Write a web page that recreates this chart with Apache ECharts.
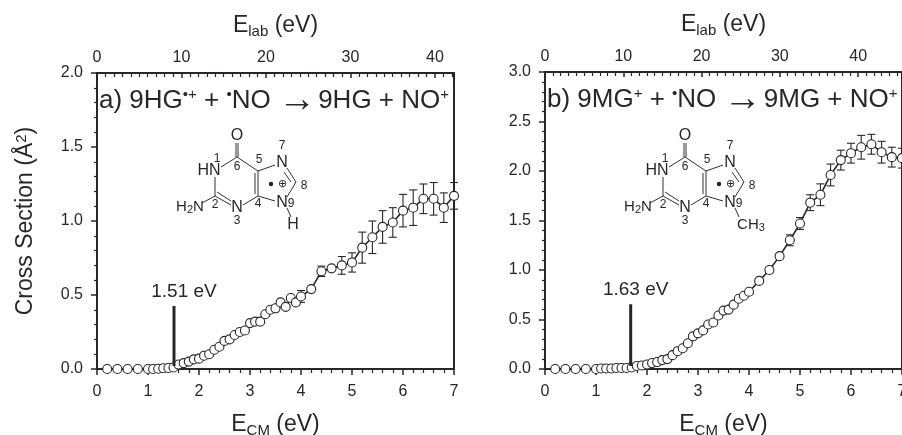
<!DOCTYPE html>
<html><head><meta charset="utf-8">
<style>html,body{margin:0;padding:0;background:#fff;overflow:hidden}#c{width:902px;height:435px}</style>
<script src="https://cdn.jsdelivr.net/npm/echarts@6/dist/echarts.min.js"></script>
</head><body><div id="c"></div>
<script>
const energyA=[0.2,0.4,0.6,0.8,1.0,1.1,1.2,1.3,1.4,1.5,1.6,1.7,1.8,1.9,2.0,2.1,2.2,2.3,2.4,2.5,2.6,2.7,2.8,2.9,3.0,3.1,3.2,3.3,3.4,3.5,3.6,3.7,3.8,3.9,4.0,4.2,4.4,4.6,4.8,5.0,5.2,5.4,5.6,5.8,6.0,6.2,6.4,6.6,6.8,7.0];
const sigmaA=[0,0,0,0,0,0,0.002,0.005,0.007,0.01,0.03,0.04,0.05,0.065,0.07,0.09,0.10,0.13,0.15,0.19,0.20,0.23,0.25,0.26,0.31,0.32,0.32,0.37,0.40,0.41,0.45,0.42,0.48,0.45,0.49,0.54,0.66,0.68,0.70,0.72,0.82,0.89,0.96,0.99,1.07,1.09,1.15,1.15,1.09,1.17];
const errA=[0,0,0,0,0,0,0,0,0,0,0,0,0,0,0,0,0,0,0,0,0,0,0,0,0,0,0,0,0,0,0,0,0,0.02,0.04,0.01,0.035,0.012,0.06,0.065,0.105,0.11,0.11,0.10,0.11,0.12,0.10,0.11,0.10,0.09];
const energyB=energyA;
const sigmaB=[0,0,0,0,0,0.005,0.005,0.005,0.01,0.01,0.01,0.015,0.03,0.035,0.045,0.06,0.07,0.09,0.10,0.14,0.18,0.21,0.26,0.33,0.36,0.39,0.45,0.47,0.54,0.59,0.60,0.65,0.71,0.74,0.78,0.89,1.00,1.14,1.30,1.47,1.68,1.76,1.96,2.11,2.18,2.24,2.27,2.19,2.14,2.13];
const errB=[0,0,0,0,0,0,0,0,0,0,0,0,0,0,0,0,0,0,0,0,0,0,0,0,0,0,0,0,0,0,0,0,0,0,0.01,0.02,0.03,0.02,0.055,0.06,0.08,0.11,0.11,0.10,0.10,0.12,0.10,0.11,0.10,0.10];
const thresholdA=[[1.51,0.02],[1.51,0.425]];
const thresholdB=[[1.68,0.03],[1.68,0.655]];
const ink='#2a2627';
const font='"Liberation Sans",Arial,sans-serif';
const axisName=(main,sub)=>`{m|${main}}{s|${sub}}{m| (eV)}`;
const nameRich={m:{fontSize:23,fontFamily:font,color:ink},s:{fontSize:15,fontFamily:font,color:ink,verticalAlign:'bottom',padding:[12,0,0,0]}};
function xAxes(g,topMax){
 const line={lineStyle:{color:ink,width:2}};
 return [
 {gridIndex:g,type:'value',position:'bottom',min:0,max:7,interval:1,axisLine:{show:true,onZero:false,...line},
  axisTick:{show:true,length:6,inside:false,lineStyle:{color:ink,width:1.5}},
  minorTick:{show:true,splitNumber:5,length:4,lineStyle:{color:ink,width:1.2}},
  splitLine:{show:false},axisLabel:{fontSize:16,fontFamily:font,color:ink,margin:15},
  name:axisName('E','CM'),nameLocation:'middle',nameGap:42,nameTextStyle:{rich:nameRich}},
 {gridIndex:g,type:'value',position:'top',min:0,max:topMax,interval:10,axisLine:{show:true,onZero:false,...line},
  axisTick:{show:true,inside:true,length:5,lineStyle:{color:ink,width:1.5}},
  minorTick:{show:true,splitNumber:10,length:4,lineStyle:{color:ink,width:1.2}},
  splitLine:{show:false},axisLabel:{fontSize:16,fontFamily:font,color:ink,margin:7,showMaxLabel:false},
  name:axisName('E','lab'),nameLocation:'middle',nameGap:34,nameTextStyle:{rich:nameRich}}
 ];
}
function yAxes(g,max,interval,named){
 return [
 {gridIndex:g,type:'value',position:'left',min:0,max,interval,axisLine:{show:true,onZero:false,lineStyle:{color:ink,width:2}},
  axisTick:{show:true,length:6,lineStyle:{color:ink,width:1.5}},
  minorTick:{show:true,splitNumber:5,length:3,lineStyle:{color:ink,width:1.2}},splitLine:{show:false},
  axisLabel:{fontSize:16,fontFamily:font,color:ink,margin:14,formatter:v=>v.toFixed(1)},
  name:named?'{m|Cross Section (Å}{t|2}{m|)}':'',nameLocation:'middle',nameGap:59,
  nameTextStyle:{rich:{m:{fontSize:23,fontFamily:font,color:ink},t:{fontSize:15,fontFamily:font,color:ink,verticalAlign:'top',padding:[0,0,9,0]}}}},
 {gridIndex:g,type:'value',position:'right',min:0,max,interval,axisLine:{show:true,onZero:false,lineStyle:{color:ink,width:2}},
  axisTick:{show:false},axisLabel:{show:false},splitLine:{show:false}}
 ];
}
function errorSeries(x,y,e,xi,yi){
 const rows=x.map((v,i)=>[v,y[i]-e[i],y[i]+e[i],e[i]]).filter(r=>r[3]>0);
 return {type:'custom',xAxisIndex:xi,yAxisIndex:yi,z:2,silent:true,clip:false,data:rows,encode:{x:0,y:[1,2]},
  renderItem(p,api){
   const a=api.coord([api.value(0),api.value(1)]),b=api.coord([api.value(0),api.value(2)]),c=4;
   const st={stroke:ink,lineWidth:1.1,fill:'none'};
   return {type:'group',children:[
    {type:'line',shape:{x1:a[0],y1:a[1],x2:b[0],y2:b[1]},style:st},
    {type:'line',shape:{x1:a[0]-c,y1:a[1],x2:a[0]+c,y2:a[1]},style:st},
    {type:'line',shape:{x1:b[0]-c,y1:b[1],x2:b[0]+c,y2:b[1]},style:st}]};
  }};
}
function mainSeries(x,y,xi,yi){
 return {type:'line',xAxisIndex:xi,yAxisIndex:yi,z:3,data:x.map((v,i)=>[v,y[i]]),symbol:'circle',symbolSize:9,clip:false,
  showSymbol:true,showAllSymbols:true,lineStyle:{color:ink,width:1.6},itemStyle:{color:'#fff',borderColor:ink,borderWidth:1.1},animation:false};
}
function thresholdSeries(pts,xi,yi){
 return {type:'line',xAxisIndex:xi,yAxisIndex:yi,z:4,symbol:'none',data:pts,lineStyle:{color:ink,width:3,cap:'butt'},animation:false};
}
function thresholdLabel(pts,label,xi,yi,dx){
 return {type:'scatter',xAxisIndex:xi,yAxisIndex:yi,z:5,symbolSize:1,itemStyle:{color:'rgba(0,0,0,0)',opacity:1},silent:true,data:[pts[1]],
  label:{show:true,position:'top',formatter:label,fontSize:19,fontFamily:font,color:ink,opacity:1,distance:4,offset:[dx,0]}};
}
function molecule(ox,oy,tail){
 const s={stroke:'#333',lineWidth:1,fill:'none'};
 const L=(pts)=>({type:'polyline',shape:{points:pts.map(p=>[p[0]+ox,p[1]+oy])},style:s,silent:true});
 const rich={n:{fontSize:15,fontFamily:font,color:ink},s:{fontSize:11,fontFamily:font,color:ink,padding:[6,0,0,0]}};
 const T=(text,x,y,size)=>({type:'text',x:x+ox,y:y+oy,silent:true,style:{text,fontSize:size,fontFamily:font,fill:'#2a2627',align:'center',verticalAlign:'middle',rich}});
 const els=[
  L([[67,37],[67,23]]),L([[69,37],[69,23]]),
  L([[68,37],[89,51]]),L([[89,51],[106,45]]),
  L([[89,51],[89,76]]),L([[86,53],[86,74]]),
  L([[68,37],[52,47]]),L([[46,57],[46,76]]),
  L([[46,76],[62,85]]),L([[48,72],[62,81]]),
  L([[74,85],[89,76]]),L([[89,76],[106,81]]),
  L([[118,48],[127,62]]),L([[115,52],[122,62]]),L([[127,62],[118,77]]),
  L([[33,83],[46,76]]),L([[118,88],[122,97]]),
  T('O',68,16,16),T('N',113,43,16),T('N',113,83,16),T('N',68,88,16),
  T('HN',40,51,16),T('{n|H}{s|2}{n|N}',21,87,16),
  T('1',48,39,12),T('6',68,47,12),T('5',90,40,12),T('7',113,26,12),T('8',135,66,12),
  T('9',122,84,12),T('4',89,84,12),T('3',68,101,12),T('2',46,85,12),
  {type:'circle',shape:{cx:102+ox,cy:64+oy,r:2.2},style:{fill:'#222'},silent:true},
  T('\u2295',113,64,11)
 ];
 els.push(tail==='H'?T('H',124,105,16):T('{n|CH}{s|3}',134,105,16));
 return els;
}
const chart=echarts.init(document.getElementById('c'),null,{renderer:'canvas'});
const titleStyle=(x,y,parts)=>({type:'text',x,y,silent:true,style:{text:parts,fontFamily:font,rich:{n:{fontSize:26,fontFamily:font,color:ink},a:{fontSize:38,fontFamily:font,color:ink},k:{fontSize:8,fontFamily:font,color:ink},u:{fontSize:15,fontFamily:font,color:ink,padding:[0,0,12,0]}},fill:ink,verticalAlign:'middle'}});
chart.setOption({animation:false,backgroundColor:'#fff',
 grid:[{left:97,top:73,width:357,height:296,outerBoundsMode:'none'},{left:545,top:72,width:357,height:297,outerBoundsMode:'none'}],
 xAxis:[...xAxes(0,42.25),...xAxes(1,45.6)],
 yAxis:[...yAxes(0,2,0.5,true),...yAxes(1,3,0.5,false)],
 series:[
  errorSeries(energyA,sigmaA,errA,0,0),mainSeries(energyA,sigmaA,0,0),thresholdSeries(thresholdA,0,0),thresholdLabel(thresholdA,'1.51 eV',0,0,10),
  errorSeries(energyB,sigmaB,errB,2,2),mainSeries(energyB,sigmaB,2,2),thresholdSeries(thresholdB,2,2),thresholdLabel(thresholdB,'1.63 eV',2,2,5)
 ],
 graphic:[
  titleStyle(99,101,'{n|a) 9HG}{u|\u2022+}{n| + }{u|\u2022}{n|NO }{a|\u2192}{k| }{n|9HG + NO}{u|+}'),
  titleStyle(547,100,'{n|b) 9MG}{u|+}{n| + }{u|\u2022}{n|NO }{a|\u2192}{k| }{n|9MG + NO}{u|+}'),
  ...molecule(169,120,'H'),
  ...molecule(617,120,'CH3')
 ]
});
</script></body></html>
